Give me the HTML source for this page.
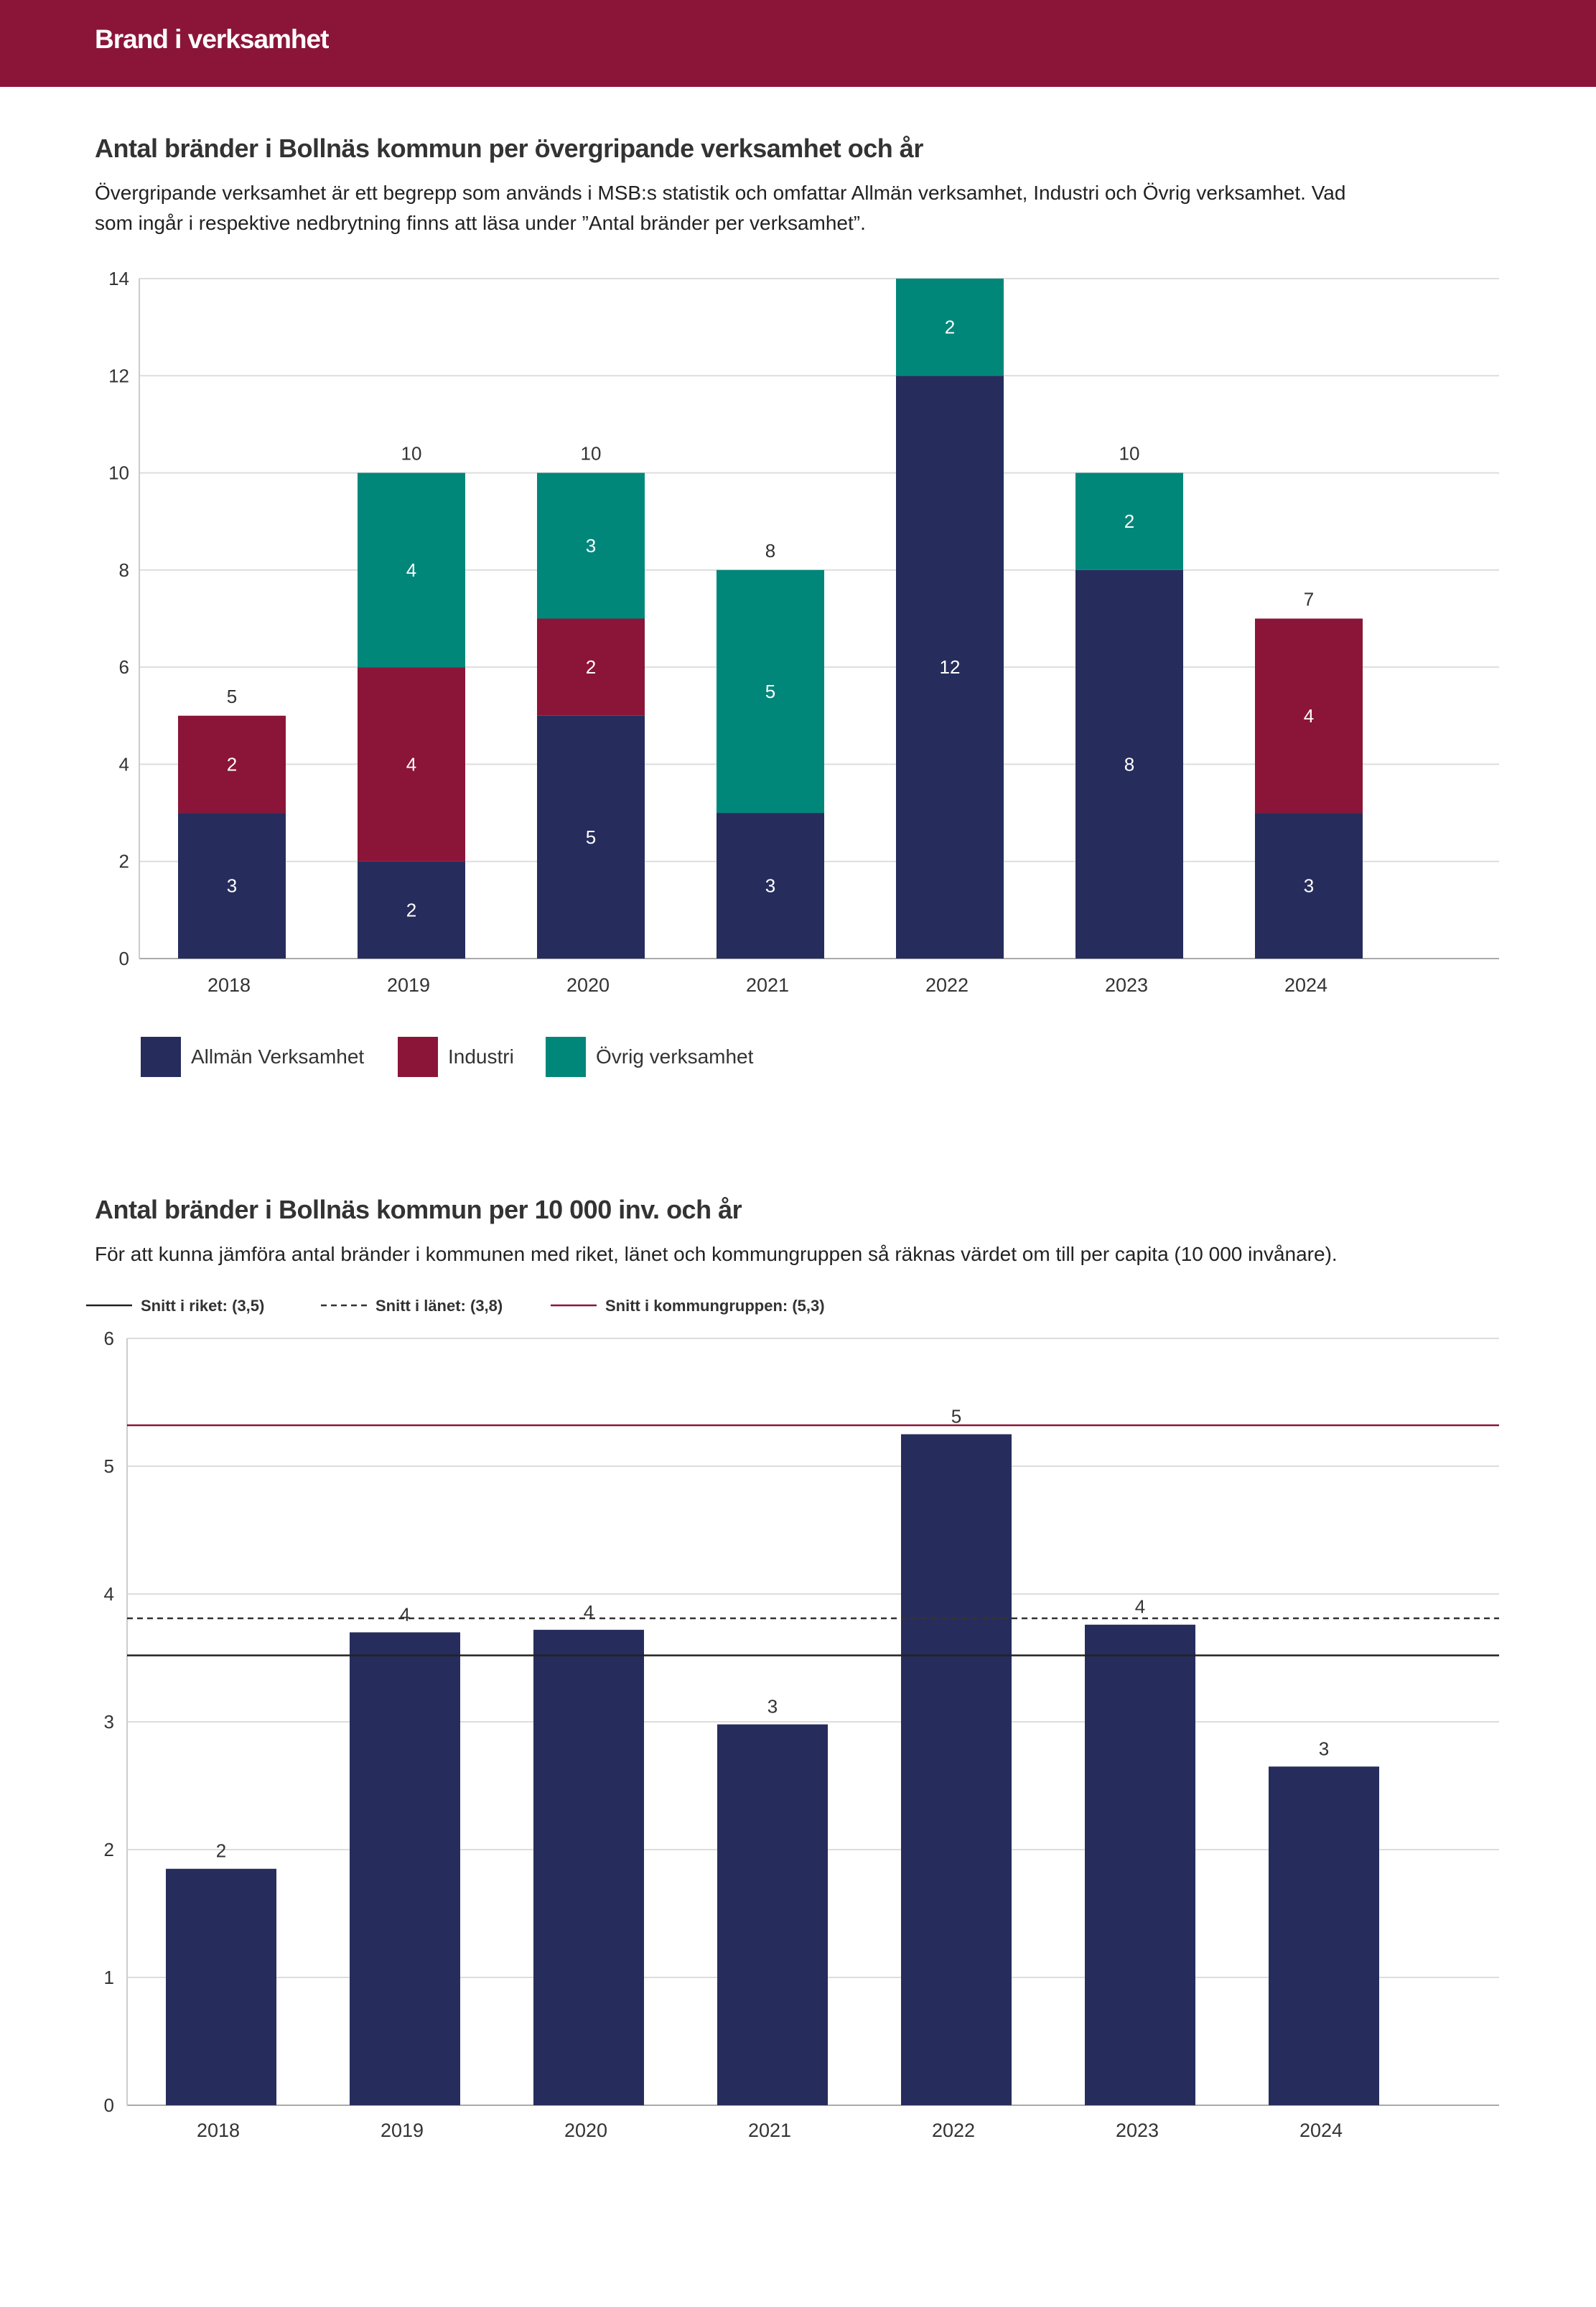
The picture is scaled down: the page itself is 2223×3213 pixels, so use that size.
<!DOCTYPE html>
<html><head><meta charset="utf-8">
<style>
body{margin:0;width:2223px;height:3213px;background:#fff;font-family:"Liberation Sans",sans-serif;color:#333;position:relative;overflow:hidden}
.hdr{position:absolute;left:0;top:0;width:2223px;height:121px;background:#8b1538}
.hdr span{position:absolute;left:132px;top:34px;color:#fff;font-size:37px;font-weight:bold;letter-spacing:-1px}
.t{position:absolute;left:132px;font-size:36px;font-weight:bold;color:#333;letter-spacing:-0.5px}
.s{position:absolute;left:132px;font-size:28px;line-height:42px;color:#222;width:1790px}
svg{position:absolute;left:0;top:0}
</style></head><body>
<div class="hdr"><span>Brand i verksamhet</span></div>
<div class="t" style="top:186px">Antal bränder i Bollnäs kommun per övergripande verksamhet och år</div>
<div class="s" style="top:248px">Övergripande verksamhet är ett begrepp som används i MSB:s statistik och omfattar Allmän verksamhet, Industri och Övrig verksamhet. Vad som ingår i respektive nedbrytning finns att läsa under ”Antal bränder per verksamhet”.</div>
<div class="t" style="top:1664px">Antal bränder i Bollnäs kommun per 10 000 inv. och år</div>
<div class="s" style="top:1726px;width:2050px">För att kunna jämföra antal bränder i kommunen med riket, länet och kommungruppen så räknas värdet om till per capita (10 000 invånare).</div>
<svg id="svg" width="2223" height="3213" xmlns="http://www.w3.org/2000/svg"></svg>
<script>
const years=["2018","2019","2020","2021","2022","2023","2024"];
const allman=[3,2,5,3,12,8,3];
const industri=[2,4,2,0,0,0,4];
const ovrig=[0,4,3,5,2,2,0];
const ticks1=[0,2,4,6,8,10,12,14];
const years2=["2018","2019","2020","2021","2022","2023","2024"];
const perCapita=[1.85,3.70,3.72,2.98,5.25,3.76,2.65];
const ticks2=[0,1,2,3,4,5,6];
const refNames=["Snitt i riket: (3,5)","Snitt i länet: (3,8)","Snitt i kommungruppen: (5,3)"];
const refValues=[3.52,3.81,5.32];

const NS="http://www.w3.org/2000/svg",svg=document.getElementById('svg');
function mk(t,a,txt){const e=document.createElementNS(NS,t);for(const k in a)e.setAttribute(k,a[k]);if(txt!==undefined)e.textContent=txt;svg.appendChild(e);return e;}
const C={a:"#262d5c",i:"#8b1538",o:"#00877a"};

// Chart 1
const L1=194,R1=2088,T1=388,B1=1335;
const y1=v=>B1-(v/14)*(B1-T1);
const x1=i=>323+i*250;
ticks1.forEach(t=>{
 let g=mk('line',{x1:L1,x2:R1,y1:y1(t),y2:y1(t),stroke:t==0?'#aaa':'#ddd','stroke-width':2});
 
 let l=mk('text',{x:L1-14,y:y1(t)+9,'text-anchor':'end','font-size':26,fill:'#333'},t);
 
});
let ax=mk('line',{x1:L1,x2:L1,y1:T1,y2:B1,stroke:'#ccc','stroke-width':2});

years.forEach((yr,i)=>{
 let base=0;
 [[allman,C.a,'allman'],[industri,C.i,'industri'],[ovrig,C.o,'ovrig']].forEach(([arr,col,nm])=>{
  const v=arr[i];if(!v)return;
  let r=mk('rect',{x:x1(i)-75,y:y1(base+v),width:150,height:y1(base)-y1(base+v),fill:col});
  
  let t=mk('text',{x:x1(i),y:(y1(base)+y1(base+v))/2+9,'text-anchor':'middle','font-size':26,fill:'#fff'},v);
  
  base+=v;
 });
 if(base<14){let t=mk('text',{x:x1(i),y:y1(base)-18,'text-anchor':'middle','font-size':26,fill:'#333'},base);
 }
 let xl=mk('text',{x:x1(i)-4,y:1381,'text-anchor':'middle','font-size':27,fill:'#333'},yr);
 
});
[["Allmän Verksamhet",C.a,196],["Industri",C.i,554],["Övrig verksamhet",C.o,760]].forEach(([n,c,x])=>{
 let r=mk('rect',{x:x,y:1444,width:56,height:56,fill:c});
 
 let t=mk('text',{x:x+70,y:1481,'font-size':28,fill:'#333'},n);
 
});

// Chart 2
const L2=177,R2=2088,T2=1864,B2=2932;
const y2=v=>B2-(v/6)*(B2-T2);
const x2=i=>308+i*256;
ticks2.forEach(t=>{
 let g=mk('line',{x1:L2,x2:R2,y1:y2(t),y2:y2(t),stroke:t==0?'#aaa':'#ddd','stroke-width':2});
 
 let l=mk('text',{x:L2-18,y:y2(t)+9,'text-anchor':'end','font-size':26,fill:'#333'},t);
 
});
let ax2=mk('line',{x1:L2,x2:L2,y1:T2,y2:B2,stroke:'#ccc','stroke-width':2});

years2.forEach((yr,i)=>{
 const v=perCapita[i];
 let r=mk('rect',{x:x2(i)-77,y:y2(v),width:154,height:B2-y2(v),fill:C.a});
 
 let t=mk('text',{x:x2(i),y:y2(v)-16,'text-anchor':'middle','font-size':26,fill:'#333'},Math.round(v));
 
 let xl=mk('text',{x:x2(i)-4,y:2976,'text-anchor':'middle','font-size':27,fill:'#333'},yr);
 
});
const refStyle=[['#222',''],['#333','8,6'],['#8b1538','']];
const legX=[120,447,767];
refValues.forEach((v,i)=>{
 let l=mk('line',{x1:L2,x2:R2,y1:y2(v),y2:y2(v),stroke:refStyle[i][0],'stroke-width':2.5,'stroke-dasharray':refStyle[i][1]});
 
 let ll=mk('line',{x1:legX[i],x2:legX[i]+64,y1:1818,y2:1818,stroke:refStyle[i][0],'stroke-width':2.5,'stroke-dasharray':refStyle[i][1]});
 
 let t=mk('text',{x:legX[i]+76,y:1826,'font-size':22,'font-weight':'bold',fill:'#333'},refNames[i]);
 
});
</script>
</body></html>
